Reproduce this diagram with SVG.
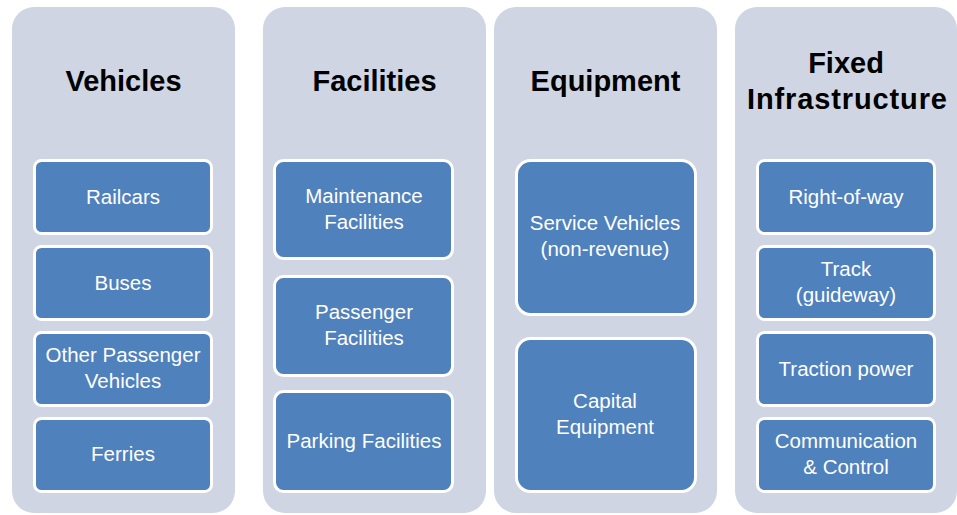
<svg xmlns="http://www.w3.org/2000/svg" width="957" height="515" viewBox="0 0 957 515">
<style>
.panel{fill:#CFD5E3}
.box{fill:#4F81BD;stroke:#FFFFFF;stroke-width:3}
.head{font-family:"Liberation Sans",Arial,sans-serif;font-weight:bold;font-size:29px;fill:#000;text-anchor:middle}
.lbl{font-family:"Liberation Sans",Arial,sans-serif;font-size:20.5px;fill:#FFFFFF;text-anchor:middle}
</style>
<rect width="957" height="515" fill="#FFFFFF"/>
<g id="col-vehicles">
<rect class="panel" x="12" y="7" width="223" height="506" rx="22"/>
<text class="head" x="123.5" y="91">Vehicles</text>
<g id="railcars"><rect class="box" x="34.5" y="160.5" width="177" height="73" rx="7"/><text class="lbl" x="123" y="204">Railcars</text></g>
<g id="buses"><rect class="box" x="34.5" y="246.5" width="177" height="73" rx="7"/><text class="lbl" x="123" y="290">Buses</text></g>
<g id="other"><rect class="box" x="34.5" y="332.5" width="177" height="73" rx="7"/><text class="lbl" x="123" y="362">Other Passenger</text><text class="lbl" x="123" y="388">Vehicles</text></g>
<g id="ferries"><rect class="box" x="34.5" y="418.5" width="177" height="73" rx="7"/><text class="lbl" x="123" y="461">Ferries</text></g>
</g>
<g id="col-facilities">
<rect class="panel" x="263" y="7" width="223" height="506" rx="22"/>
<text class="head" x="374.5" y="91">Facilities</text>
<g id="maintenance"><rect class="box" x="274.5" y="160.5" width="178" height="98" rx="9"/><text class="lbl" x="364" y="203">Maintenance</text><text class="lbl" x="364" y="229">Facilities</text></g>
<g id="passenger"><rect class="box" x="274.5" y="276.5" width="178" height="99" rx="9"/><text class="lbl" x="364" y="319">Passenger</text><text class="lbl" x="364" y="345">Facilities</text></g>
<g id="parking"><rect class="box" x="274.5" y="391.5" width="178" height="100" rx="9"/><text class="lbl" x="364" y="448">Parking Facilities</text></g>
</g>
<g id="col-equipment">
<rect class="panel" x="494" y="7" width="223" height="506" rx="22"/>
<text class="head" x="605.5" y="91">Equipment</text>
<g id="service"><rect class="box" x="516.5" y="160.5" width="179" height="154" rx="14"/><text class="lbl" x="605" y="230">Service Vehicles</text><text class="lbl" x="605" y="256">(non-revenue)</text></g>
<g id="capital"><rect class="box" x="516.5" y="338.5" width="179" height="153" rx="14"/><text class="lbl" x="605" y="408">Capital</text><text class="lbl" x="605" y="434">Equipment</text></g>
</g>
<g id="col-fixed">
<rect class="panel" x="735" y="7" width="222" height="506" rx="22"/>
<text class="head" x="846" y="73">Fixed</text>
<text class="head" x="847" y="109" textLength="200" lengthAdjust="spacing">Infrastructure</text>
<g id="row"><rect class="box" x="757.5" y="160.5" width="177" height="73" rx="7"/><text class="lbl" x="846" y="204">Right-of-way</text></g>
<g id="track"><rect class="box" x="757.5" y="246.5" width="177" height="73" rx="7"/><text class="lbl" x="846" y="276">Track</text><text class="lbl" x="846" y="302">(guideway)</text></g>
<g id="traction"><rect class="box" x="757.5" y="332.5" width="177" height="73" rx="7"/><text class="lbl" x="846" y="376">Traction power</text></g>
<g id="comm"><rect class="box" x="757.5" y="418.5" width="177" height="73" rx="7"/><text class="lbl" x="846" y="448">Communication</text><text class="lbl" x="846" y="474">&amp; Control</text></g>
</g>
<g id="connectors"/>
</svg>
